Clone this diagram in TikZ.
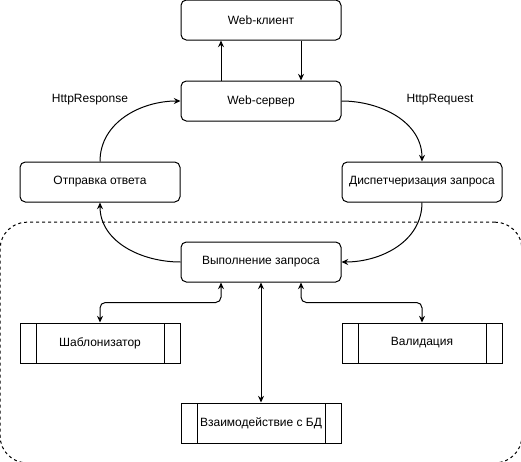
\documentclass[tikz,border=0pt]{standalone}
\usepackage{fontspec}
\setmainfont{Liberation Sans}
\usetikzlibrary{positioning, arrows.meta, fit}

\begin{document}
\begin{tikzpicture}[
    x=0.75pt, y=0.75pt,
    >={Stealth[length=5pt, width=4.5pt]},
    node distance=30pt,
    line width=0.75pt,
    font=\fontsize{9}{11}\selectfont,
    block/.style={draw, rectangle, minimum height=30pt, minimum width=120pt, align=center, fill=white, rounded corners=4pt},
    proc/.style={draw, rectangle, minimum height=30pt, minimum width=120pt, align=center, fill=white,
        path picture={
            \draw ([xshift=12pt]path picture bounding box.north west) -- ([xshift=12pt]path picture bounding box.south west);
            \draw ([xshift=-12pt]path picture bounding box.north east) -- ([xshift=-12pt]path picture bounding box.south east);
        }},
    group/.style={draw, dash pattern=on 2.25pt off 2.25pt, rounded corners=20pt, inner sep=14.5pt}
]

    \useasboundingbox (0,0) rectangle (521,-461);

    % Nodes
    \node[block] (client) at (261,-20) {Web-клиент};
    \node[block, below=of client] (server) {Web-сервер};
    \node[block, below left=30pt and 0pt of server] (reply) {Отправка ответа};
    \node[block, below right=30pt and 0pt of server] (dispatch) {Диспетчеризация запроса};
    \node[block, below=90pt of server] (exec) {Выполнение запроса};
    \node[proc, below left=30pt and 0pt of exec] (tmpl) {Шаблонизатор};
    \node[proc, below right=30pt and 0pt of exec] (valid) {Валидация};
    \node[proc, below=90pt of exec] (db) {Взаимодействие с БД};

    % Group
    \node[group, fit=(exec)(tmpl)(valid)(db)] (engine) {};

    % Labels
    \node at (90,-100) (resp) {HttpResponse};
    \node at (440,-100) (req) {HttpRequest};

    % Connections
    \draw[->] ([xshift=-30pt]server.north) -- ([xshift=-30pt]client.south);
    \draw[->] ([xshift=30pt]client.south) -- ([xshift=30pt]server.north);
    \draw[->] (reply.north) to[out=90, in=180] (server.west);
    \draw[->] (server.east) to[out=0, in=90] (dispatch.north);
    \draw[->] (dispatch.south) to[out=-90, in=0] (exec.east);
    \draw[->] (exec.west) to[out=180, in=-90] (reply.south);

    % Sub-tasks
    \draw[<->, rounded corners=4pt] ([xshift=-30pt]exec.south) -- ++(0,-15pt) -| (tmpl.north);
    \draw[<->, rounded corners=4pt] ([xshift=30pt]exec.south) -- ++(0,-15pt) -| (valid.north);
    \draw[<->] (exec.south) -- (db.north);

\end{tikzpicture}
\end{document}
